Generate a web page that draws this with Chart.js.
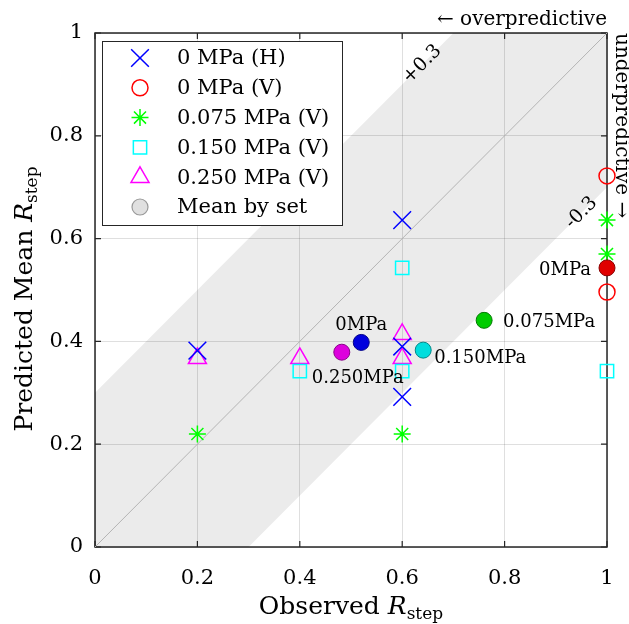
<!DOCTYPE html>
<html>
<head>
<meta charset="utf-8">
<script src="https://cdn.jsdelivr.net/npm/chart.js@4.4.0/dist/chart.umd.min.js"></script>
<style>html,body{margin:0;padding:0;background:#fff;}</style>
</head>
<body>
<canvas id="graphique" width="629" height="624"></canvas>
<script>
var obsH = [0.2, 0.6, 0.6, 0.6];
var predH = [0.382, 0.636, 0.39, 0.292];
var obsV0 = [1, 1];
var predV0 = [0.722, 0.496];
var obsV075 = [0.2, 0.6, 1, 1];
var predV075 = [0.22, 0.22, 0.636, 0.57];
var obsV150 = [0.4, 0.6, 0.6, 1];
var predV150 = [0.342, 0.543, 0.342, 0.342];
var obsV250 = [0.2, 0.4, 0.6, 0.6];
var predV250 = [0.367, 0.367, 0.414, 0.367];

// moyennes par série
var meanLabels = ['0MPa', '0.075MPa', '0.150MPa', '0.250MPa', '0MPa'];
var meanObs = [0.52, 0.76, 0.641, 0.482, 1];
var meanPred = [0.398, 0.441, 0.383, 0.379, 0.543];

var tickValues = [0, 0.2, 0.4, 0.6, 0.8, 1];
var bandWidth = 0.3;

// styles
var FONT = '"DejaVu Serif", serif';
var meanFill = ['#0000dd', '#00cc00', '#00dddd', '#dd00dd', '#e00000'];
var meanEdge = ['#000088', '#007700', '#008888', '#880088', '#880000'];
// décalage des étiquettes des moyennes (px)
var meanLabelPos = [
  {dx: 0, dy: -12, align: 'center'},
  {dx: 19, dy: 7, align: 'left'},
  {dx: 11, dy: 13, align: 'left'},
  {dx: -30, dy: 31, align: 'left'},
  {dx: -16, dy: 7, align: 'right'}
];

function paires(xs, ys){
  return xs.map(function(x, i){ return {x: x, y: ys[i]}; });
}

var bande = [
  {x: 0, y: 0}, {x: 0, y: bandWidth}, {x: 1 - bandWidth, y: 1},
  {x: 1, y: 1}, {x: 1, y: 1 - bandWidth}, {x: bandWidth, y: 0}, {x: 0, y: 0}
];

function serie(label, xs, ys, style, couleur, r){
  return {
    label: label, data: paires(xs, ys), pointStyle: style,
    pointRadius: r, pointHoverRadius: r, pointBorderColor: couleur,
    pointBackgroundColor: 'rgba(0,0,0,0)', pointBorderWidth: 1.5,
    showLine: false, clip: false, order: 1
  };
}

var datasets = [
  serie('0 MPa (H)', obsH, predH, 'crossRot', '#0000ff', 12.5),
  serie('0 MPa (V)', obsV0, predV0, 'circle', '#ff0000', 8),
  serie('0.075 MPa (V)', obsV075, predV075, 'star', '#00ff00', 8.5),
  serie('0.150 MPa (V)', obsV150, predV150, 'rect', '#00ffff', 9.4),
  serie('0.250 MPa (V)', obsV250, predV250, 'triangle', '#ff00ff', 10.4),
  {
    label: 'Mean by set', data: paires(meanObs, meanPred), pointStyle: 'circle',
    pointRadius: 8, pointHoverRadius: 8, pointBackgroundColor: meanFill,
    pointBorderColor: meanEdge, pointBorderWidth: 1, showLine: false, clip: false, order: 0
  },
  {
    label: 'diag', data: paires([0, 1], [0, 1]), showLine: true, pointRadius: 0,
    borderColor: '#b3b3b3', borderWidth: 1, order: 5
  },
  {
    label: 'bande', data: bande, showLine: true, pointRadius: 0, borderWidth: 0,
    borderColor: 'rgba(0,0,0,0)', fill: 'shape', backgroundColor: 'rgba(0,0,0,0.08)', order: 6
  }
];

var legendeItems = [0, 1, 2, 3, 4];

function texteIndice(ctx, parts, x, y, align){
  // parts: [{t, font, dy}]
  var total = 0;
  parts.forEach(function(p){ ctx.font = p.font; total += ctx.measureText(p.t).width; });
  var cx = align === 'center' ? x - total / 2 : x;
  parts.forEach(function(p){
    ctx.font = p.font;
    ctx.textAlign = 'left';
    ctx.fillText(p.t, cx, y + (p.dy || 0));
    cx += ctx.measureText(p.t).width;
  });
}

var decor = {
  id: 'decor',
  beforeDatasetsDraw: function(chart){
    var ctx = chart.ctx, a = chart.chartArea;
    var sx = chart.scales.x, sy = chart.scales.y;
    ctx.save();
    ctx.strokeStyle = '#262626';
    ctx.lineWidth = 1.5;
    ctx.strokeRect(a.left, a.top, a.right - a.left, a.bottom - a.top);
    ctx.lineWidth = 1.2;
    ctx.beginPath();
    tickValues.forEach(function(v){
      var px = sx.getPixelForValue(v), py = sy.getPixelForValue(v);
      ctx.moveTo(px, a.bottom); ctx.lineTo(px, a.bottom - 6);
      ctx.moveTo(px, a.top); ctx.lineTo(px, a.top + 6);
      ctx.moveTo(a.left, py); ctx.lineTo(a.left + 6, py);
      ctx.moveTo(a.right, py); ctx.lineTo(a.right - 6, py);
    });
    ctx.stroke();
    ctx.restore();
  },
  afterDatasetsDraw: function(chart){
    var ctx = chart.ctx, a = chart.chartArea;
    var sx = chart.scales.x, sy = chart.scales.y;
    ctx.save();
    ctx.fillStyle = '#000';

    // étiquettes des moyennes
    var meta = chart.getDatasetMeta(5);
    ctx.font = '18px ' + FONT;
    ctx.textBaseline = 'alphabetic';
    meanLabels.forEach(function(l, i){
      var p = meta.data[i], o = meanLabelPos[i];
      ctx.textAlign = o.align;
      ctx.fillText(l, p.x + o.dx, p.y + o.dy);
    });

    // +0.3 / -0.3
    ctx.font = '19px ' + FONT;
    ctx.textAlign = 'center';
    ctx.textBaseline = 'middle';
    [[0.639, 0.639 + bandWidth, '+0.3'], [0.95, 0.95 - bandWidth, '-0.3']].forEach(function(t){
      ctx.save();
      ctx.translate(sx.getPixelForValue(t[0]), sy.getPixelForValue(t[1]));
      ctx.rotate(-Math.PI / 4);
      ctx.fillText(t[2], 0, 0);
      ctx.restore();
    });

    // légende
    var lx = 102, ly = 41, lw = 240, lh = 184;
    ctx.fillStyle = '#fff';
    ctx.fillRect(lx, ly, lw, lh);
    ctx.strokeStyle = '#262626';
    ctx.lineWidth = 1;
    ctx.strokeRect(lx + 0.5, ly + 0.5, lw, lh);
    var ds = chart.data.datasets;
    var entrees = legendeItems.map(function(i){
      return {label: ds[i].label, style: ds[i].pointStyle, r: ds[i].pointRadius,
        stroke: ds[i].pointBorderColor, fill: 'rgba(0,0,0,0)', bw: 1.5};
    });
    entrees.push({label: 'Mean by set', style: 'circle', r: 8, stroke: '#999999', fill: '#e0e0e0', bw: 1.2});
    ctx.font = '21px ' + FONT;
    ctx.textAlign = 'left';
    ctx.textBaseline = 'middle';
    entrees.forEach(function(e, i){
      var y = 58 + i * 29.8;
      ctx.save();
      ctx.strokeStyle = e.stroke;
      ctx.fillStyle = e.fill;
      ctx.lineWidth = e.bw;
      Chart.helpers.drawPoint(ctx, {pointStyle: e.style, radius: e.r, borderWidth: e.bw, rotation: 0}, 140, y);
      ctx.restore();
      ctx.fillStyle = '#000';
      ctx.fillText(e.label, 177, y + 1);
    });
    ctx.restore();
  },
  afterDraw: function(chart){
    var ctx = chart.ctx, a = chart.chartArea;
    ctx.save();
    ctx.fillStyle = '#000';
    ctx.textBaseline = 'alphabetic';
    // titres des axes
    var titre = function(mot){
      return [
        {t: mot + ' ', font: '25px ' + FONT},
        {t: 'R', font: 'italic 25px ' + FONT},
        {t: 'step', font: '17px ' + FONT, dy: 5}
      ];
    };
    texteIndice(ctx, titre('Observed'), (a.left + a.right) / 2, 614, 'center');
    ctx.save();
    ctx.translate(32, 299);
    ctx.rotate(-Math.PI / 2);
    texteIndice(ctx, titre('Predicted Mean'), 0, 0, 'center');
    ctx.restore();

    // sur / sous-prédictif
    ctx.font = '20px ' + FONT;
    ctx.textAlign = 'right';
    ctx.fillText('\u2190 overpredictive', a.right, 25);
    ctx.save();
    ctx.translate(616, a.top);
    ctx.rotate(Math.PI / 2);
    ctx.textAlign = 'left';
    ctx.fillText('underpredictive \u2192', 0, 0);
    ctx.restore();
    ctx.restore();
  }
};

function axe(pad, fit){
  return {
    type: 'linear', min: 0, max: 1,
    afterFit: fit,
    afterBuildTicks: function(scale){
      scale.ticks = tickValues.map(function(v){ return {value: v}; });
    },
    ticks: {
      color: '#000', padding: pad,
      font: {family: FONT, size: 21},
      callback: function(v){ return String(Math.round(v * 10) / 10); }
    },
    grid: {color: 'rgba(38,38,38,0.15)', lineWidth: 1, drawTicks: false},
    border: {display: false}
  };
}

new Chart(document.getElementById('graphique'), {
  type: 'scatter',
  data: {datasets: datasets},
  options: {
    responsive: false,
    animation: false,
    events: [],
    layout: {autoPadding: false, padding: {top: 33, right: 22, left: 0, bottom: 0}},
    plugins: {legend: {display: false}, tooltip: {enabled: false}, title: {display: false}},
    scales: {
      x: axe(19, function(s){ s.height = 77; s.paddingLeft = 0; s.paddingRight = 0; }),
      y: axe(12, function(s){ s.width = 95; s.paddingTop = 0; s.paddingBottom = 0; })
    }
  },
  plugins: [decor]
});
</script>
</body>
</html>
